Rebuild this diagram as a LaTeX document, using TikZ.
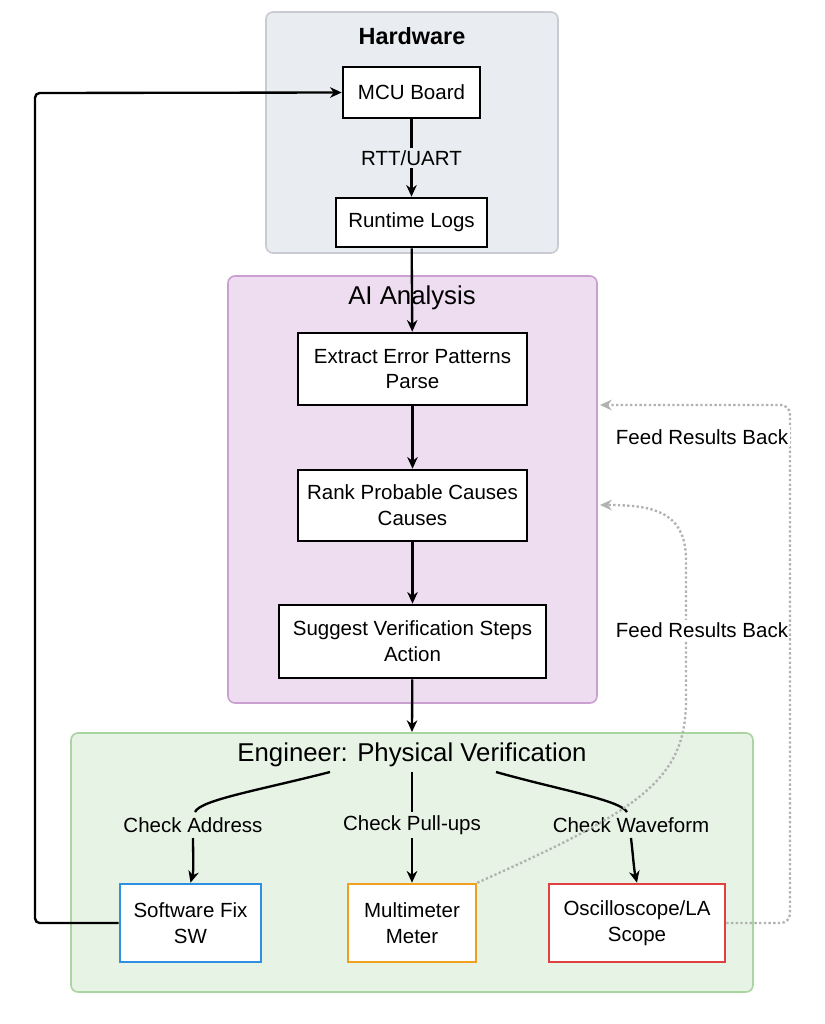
\documentclass[tikz,border=0pt]{standalone}
\usepackage{fontspec}
\setmainfont{Liberation Sans}
\usetikzlibrary{arrows.meta}
\definecolor{hwfill}{HTML}{E9ECF0}\definecolor{hwline}{HTML}{C8CCD2}
\definecolor{aifill}{HTML}{EEDDF0}\definecolor{ailine}{HTML}{C9A0D0}
\definecolor{enfill}{HTML}{E7F3E4}\definecolor{enline}{HTML}{A8D5A0}
\definecolor{swc}{HTML}{2F8FE0}\definecolor{mc}{HTML}{F0A020}\definecolor{scc}{HTML}{E04040}
\begin{document}
\begin{tikzpicture}[x=0.03cm,y=-0.03cm,
 box/.style={draw=black,line width=2.2pt,fill=white,align=center,font=\fontsize{17.5}{22}\selectfont,inner sep=0pt},
 clus/.style={rounded corners=6pt,line width=1.4pt},
 arr/.style={-{Stealth[length=10pt,width=9pt]},line width=2pt},
 dot/.style={-{Stealth[length=10pt,width=9pt]},line width=2pt,gray!60,dotted},
 lab/.style={fill=none,font=\fontsize{17.5}{21}\selectfont},
 ttl/.style={font=\fontsize{22}{26}\selectfont}]
\useasboundingbox (0,0) rectangle (825,1024);
\fill[white] (0,0) rectangle (825,1024);
\draw[clus,fill=hwfill,draw=hwline] (266,12) rectangle (558,253);
\draw[clus,fill=aifill,draw=ailine] (228,276) rectangle (597,703);
\draw[clus,fill=enfill,draw=enline] (71,733) rectangle (753,992);
\node[ttl,font=\fontsize{20}{24}\selectfont\bfseries] (th) at (412,36) {Hardware};
\node[ttl] (ta) at (412,298) {AI Analysis};
\node[ttl] (te) at (412,755) {Engineer: Physical Verification};
\node[box,minimum width=137*0.03cm,minimum height=51*0.03cm] (mcu) at (411.5,92.5) {MCU Board};
\node[box,minimum width=151*0.03cm,minimum height=49*0.03cm] (logs) at (411.5,222.5) {Runtime Logs};
\node[box,minimum width=229*0.03cm,minimum height=72*0.03cm] (ext) at (412.5,369) {Extract Error Patterns\\Parse};
\node[box,minimum width=229*0.03cm,minimum height=71*0.03cm] (rank) at (412.5,505.5) {Rank Probable Causes\\Causes};
\node[box,minimum width=267*0.03cm,minimum height=73*0.03cm] (sug) at (412.5,641.5) {Suggest Verification Steps\\Action};
\node[box,draw=swc,minimum width=141*0.03cm,minimum height=78*0.03cm] (sw) at (190.5,923) {Software Fix\\SW};
\node[box,draw=mc,minimum width=128*0.03cm,minimum height=78*0.03cm] (mm) at (412,923) {Multimeter\\Meter};
\node[box,draw=scc,minimum width=176*0.03cm,minimum height=78*0.03cm] (sc) at (637,923) {Oscilloscope/LA\\Scope};
\coordinate (ent) at (412,732);
\coordinate (cl) at (330,772);\coordinate (cr) at (496,772);\coordinate (cm) at (412,772);
\coordinate (c1) at (35,923);\coordinate (c2) at (35,93);
\draw[arr] (mcu) -- node[lab,fill=hwfill,inner sep=2pt]{RTT/UART} (logs);
\draw[arr] (logs) -- (ext);
\draw[arr] (ext) -- (rank);
\draw[arr] (rank) -- (sug);
\draw[arr] (sug) -- (ent);
\draw[line width=2pt] (cm) -- (412,812);
\draw[arr] (412,838) -- (mm);
\node[lab] (l2) at (412,825) {Check Pull-ups};
\draw[line width=2pt] (cl) .. controls (260,790) and (200,800) .. (195,812);
\draw[arr] (193,838) .. controls (193,855) and (194,870) .. (sw.north);
\node[lab] (l1) at (193,825) {Check Address};
\draw[line width=2pt] (cr) .. controls (560,790) and (620,800) .. (627,812);
\draw[arr] (631,838) .. controls (633,855) and (634,870) .. (sc.north);
\node[lab] (l3) at (631,825) {Check Waveform};
\draw[arr,rounded corners=4pt] (sw.west) -- (c1) -- (c2) -- (mcu.west);
\draw[dot] (mm.north east) .. controls (640,810) and (686,780) .. (686,700) -- (686,560) .. controls (686,510) and (650,505) .. (600,505);
\node[lab,fill=white,inner sep=2pt] (f2) at (702,630) {Feed Results Back};
\draw[dot,rounded corners=8pt] (sc.east) -- (790,923) -- (790,405) -- (600,405);
\node[lab,fill=white,inner sep=2pt] (f1) at (702,437) {Feed Results Back};
\end{tikzpicture}
\end{document}
